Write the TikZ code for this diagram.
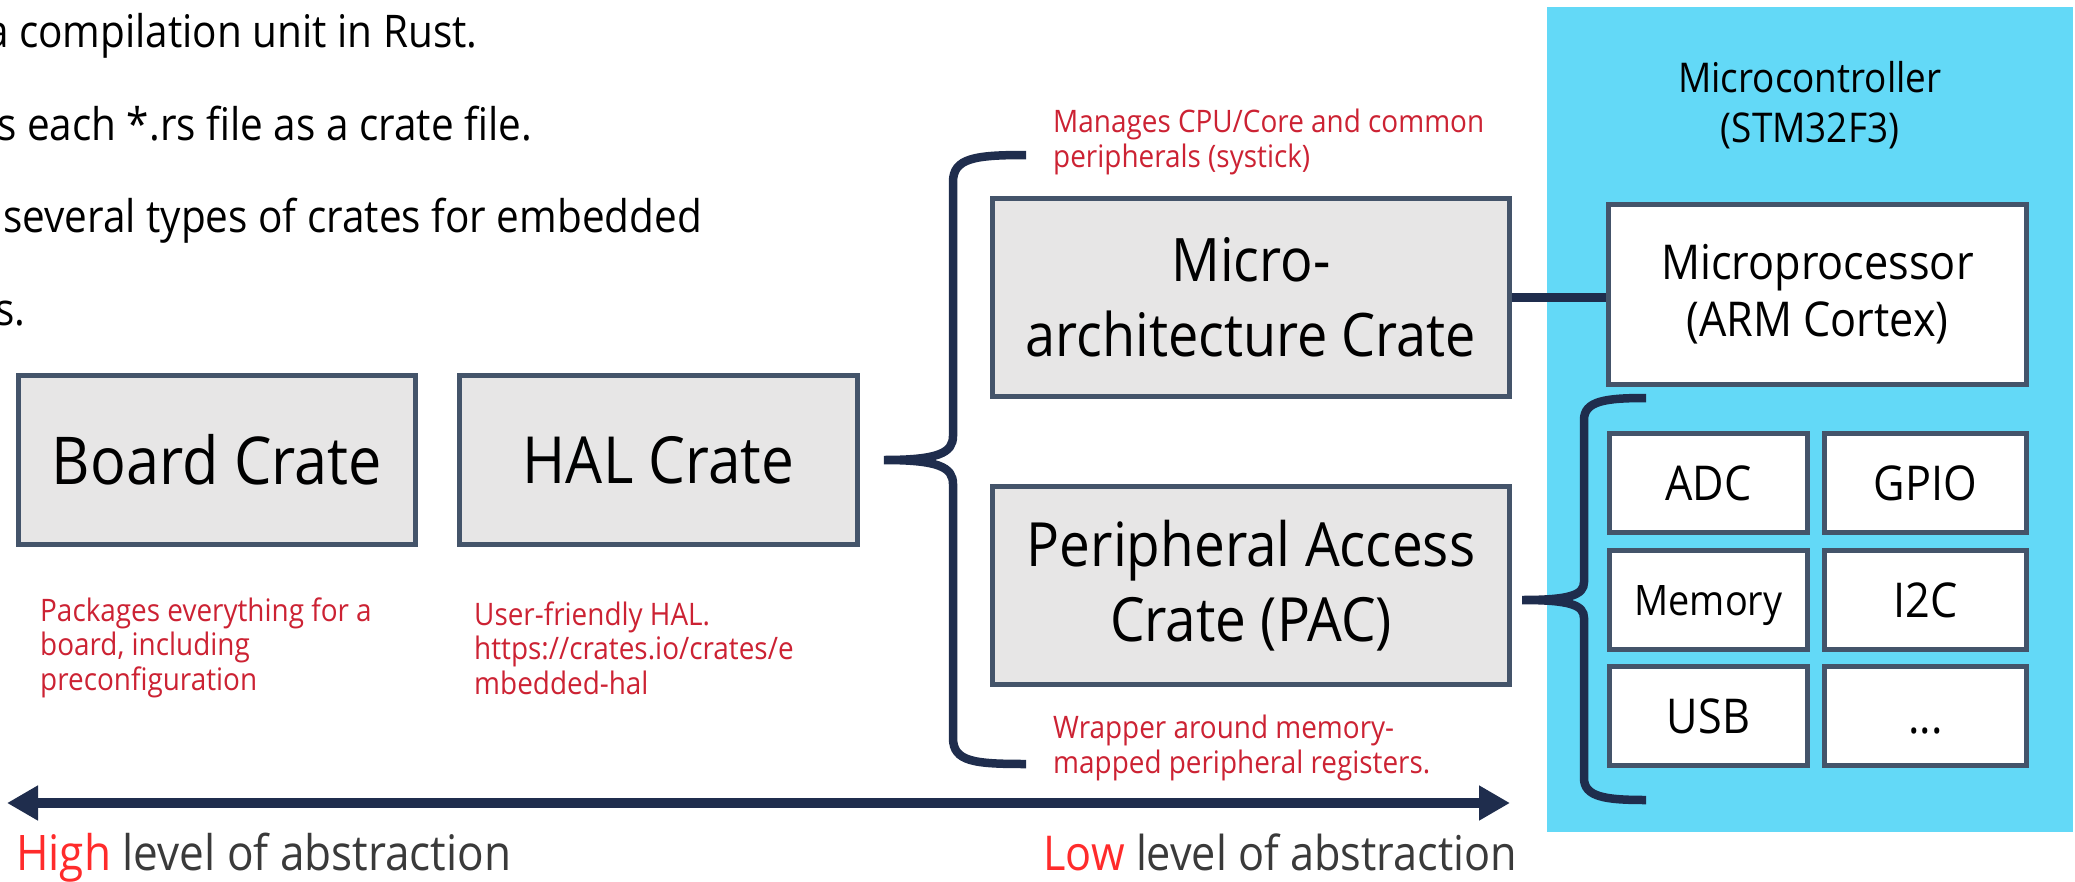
\documentclass[tikz,border=0pt]{standalone}
\usepackage{fontspec}
\setmainfont{Open Sans}[FakeStretch=0.9]
\usetikzlibrary{arrows.meta}
\definecolor{navy}{HTML}{1F2D4D}
\definecolor{slate}{HTML}{44546A}
\definecolor{crategray}{HTML}{E7E6E6}
\definecolor{mcublue}{HTML}{63D9F7}
\definecolor{annred}{HTML}{CC2233}
\definecolor{brightred}{HTML}{FF2B2B}
\definecolor{darktext}{HTML}{3A3A3A}
\tikzset{
  cratebox/.style={draw=slate, line width=5pt, fill=crategray, inner sep=0pt, align=center},
  hwbox/.style={draw=slate, line width=5pt, fill=white, inner sep=0pt, align=center},
  cellbox/.style={hwbox, minimum height=99pt, text height=34pt, text depth=0pt, font=\fontsize{48}{57}\selectfont},
  annot/.style={anchor=base west, inner sep=0pt, align=left, text=annred, font=\fontsize{31}{34.5}\selectfont},
  toptext/.style={anchor=base west, inner sep=0pt, text=black, font=\fontsize{45}{52}\selectfont},
  bracepath/.style={draw=navy, line width=8.5pt},
  conn/.style={draw=navy, line width=9pt},
  absarrow/.style={draw=navy, line width=10pt, {Triangle[length=31pt,width=33pt]}-{Triangle[length=31pt,width=33pt]}}
}
\begin{document}
\begin{tikzpicture}[x=1pt,y=-1pt]
\path[use as bounding box] (0,0) rectangle (2075,881);

% top-left text (cut at left edge)
\node[toptext] (t1) at (-14,47) {a compilation unit in Rust.};
\node[toptext] (t2) at (-3,140) {s each *.rs file as a crate file.};
\node[toptext] (t3) at (3,232) {several types of crates for embedded};
\node[toptext] (t4) at (-5,325) {s.};

% microcontroller background
\fill[mcublue] (1547,7) rectangle (2073,832);
\node[anchor=base, inner sep=0pt, align=center, font=\fontsize{41}{50}\selectfont] (mcu) at (1810,142) {Microcontroller\\(STM32F3)};

% crate boxes
\node[cratebox, minimum width=397pt, minimum height=169pt, font=\fontsize{66}{75}\selectfont] (board) at (217,460) {Board Crate};
\node[cratebox, minimum width=398pt, minimum height=169pt, font=\fontsize{65}{75}\selectfont] (hal) at (658.5,460) {HAL Crate};
\node[cratebox, minimum width=517pt, minimum height=198pt, font=\fontsize{60}{75}\selectfont] (march) at (1251,297.5) {Micro-\\architecture Crate};
\node[cratebox, minimum width=517pt, minimum height=198pt, font=\fontsize{61}{75}\selectfont] (pac) at (1251,585.5) {Peripheral Access\\Crate (PAC)};

% hardware boxes
\node[hwbox, minimum width=418pt, minimum height=180pt, font=\fontsize{48}{57}\selectfont] (mproc) at (1817.5,294.5) {Microprocessor\\(ARM Cortex)};
\node[cellbox, minimum width=198pt] (adc) at (1708.5,483) {ADC};
\node[cellbox, minimum width=202pt] (gpio) at (1925.5,483) {GPIO};
\node[cellbox, minimum width=198pt, text height=30pt, font=\fontsize{42}{57}\selectfont] (mem) at (1708.5,600) {Memory};
\node[cellbox, minimum width=202pt] (i2c) at (1925.5,600) {I2C};
\node[cellbox, minimum width=198pt] (usb) at (1708.5,716) {USB};
\node[cellbox, minimum width=202pt] (more) at (1925.5,716) {...};

% connector micro-architecture -> microprocessor
\draw[conn] (march.east) -- (march.east -| mproc.west);

% big brace
\draw[bracepath] (1026,155) .. controls (975,155) and (953,158) .. (953,182) -- (953,436)
  .. controls (953,453) and (938,460) .. (884,460)
  .. controls (938,460) and (953,467) .. (953,484) -- (953,738)
  .. controls (953,762) and (975,764) .. (1026,764);

% small brace
\draw[bracepath] (1646,398) .. controls (1605,398) and (1584,401) .. (1584,420) -- (1584,582)
  .. controls (1584,595) and (1570,600) .. (1522,600)
  .. controls (1570,600) and (1584,605) .. (1584,618) -- (1584,778)
  .. controls (1584,797) and (1605,800) .. (1646,800);

% annotations (anchor = baseline of last line)
\node[annot] (a1) at (1053,167) {Manages CPU/Core and common\\peripherals (systick)};
\node[annot] (a2) at (1053,773) {Wrapper around memory-\\mapped peripheral registers.};
\node[annot] (a3) at (40,690) {Packages everything for a\\board, including\\preconfiguration};
\node[annot] (a4) at (474,694) {User-friendly HAL.\\https://crates.io/crates/e\\mbedded-hal};

% abstraction arrow
\coordinate (arrL) at (7,803);
\coordinate (arrR) at (1510,803);
\draw[absarrow] (arrL) -- (arrR);
\node[anchor=base west, inner sep=0pt, text=darktext, font=\fontsize{49}{58}\selectfont] (high) at (16,870) {\textcolor{brightred}{High} level of abstraction};
\node[anchor=base east, inner sep=0pt, text=darktext, font=\fontsize{48}{58}\selectfont] (low) at (1517,870) {\textcolor{brightred}{Low} level of abstraction};
\end{tikzpicture}
\end{document}
